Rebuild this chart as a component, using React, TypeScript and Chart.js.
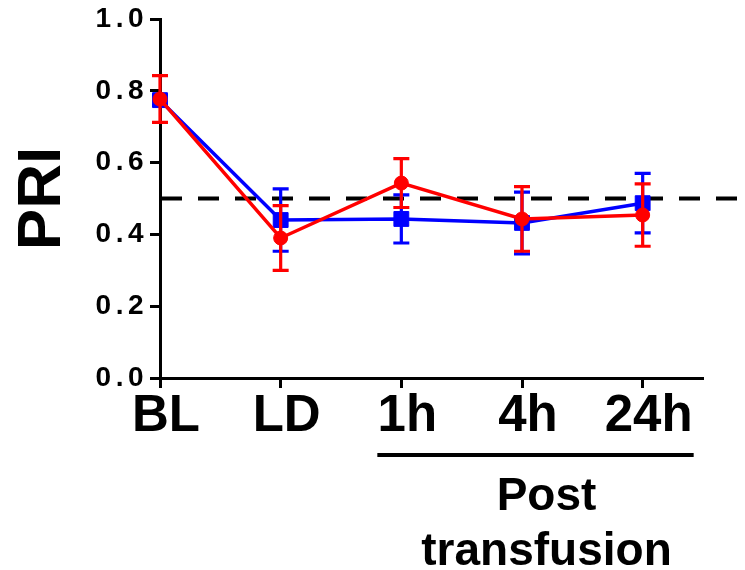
import React, { useEffect, useRef } from 'react';
import { Chart, registerables } from 'chart.js';

Chart.register(...registerables);

const CATEGORIES = ['BL', 'LD', '1h', '4h', '24h'];
const Y_TICK_STEP = 0.2;
const BLUE_MEAN = [0.774, 0.44, 0.443, 0.432, 0.487];
const BLUE_ERR = [0.015, 0.087, 0.067, 0.086, 0.083];
const RED_MEAN = [0.777, 0.39, 0.543, 0.443, 0.454];
const RED_ERR = [0.065, 0.09, 0.068, 0.09, 0.087];
const REFERENCE = 0.5;
const Y_TITLE = 'PRI';
const GROUP_LABEL = ['Post', 'transfusion'];
const GROUP_FROM = 2;
const GROUP_TO = 4;

const FONT = '"Liberation Sans", Arial, Helvetica, sans-serif';

export default function App() {
  const ref = useRef<HTMLCanvasElement>(null);

  useEffect(() => {
    if (!ref.current) return;

    const errorBars = {
      id: 'errorBars',
      beforeDatasetDraw(chart: any, args: any) {
        const ds: any = chart.data.datasets[args.index];
        if (!ds.errors) return;
        const ctx = chart.ctx;
        const xs = chart.scales.x;
        const ys = chart.scales.y;
        ctx.save();
        ctx.strokeStyle = ds.borderColor;
        ctx.lineWidth = 3.2;
        ctx.lineCap = 'butt';
        ds.data.forEach((p: any, i: number) => {
          const px = xs.getPixelForValue(p.x);
          const top = ys.getPixelForValue(p.y + ds.errors[i]);
          const bot = ys.getPixelForValue(p.y - ds.errors[i]);
          ctx.beginPath();
          ctx.moveTo(px, top);
          ctx.lineTo(px, bot);
          ctx.moveTo(px - 8, top);
          ctx.lineTo(px + 8, top);
          ctx.moveTo(px - 8, bot);
          ctx.lineTo(px + 8, bot);
          ctx.stroke();
        });
        ctx.restore();
      },
    };

    const refLine = {
      id: 'refLine',
      beforeDatasetsDraw(chart: any) {
        const ctx = chart.ctx;
        const xs = chart.scales.x;
        const ys = chart.scales.y;
        const y = ys.getPixelForValue(REFERENCE);
        ctx.save();
        ctx.strokeStyle = '#000';
        ctx.lineWidth = 4;
        ctx.setLineDash([21, 16]);
        ctx.beginPath();
        ctx.moveTo(xs.left + 1, y);
        ctx.lineTo(chart.width, y);
        ctx.stroke();
        ctx.restore();
      },
    };

    const spacing = {
      id: 'spacing',
      afterDatasetsDraw(chart: any) {
        (chart.ctx as any).letterSpacing = '4.5px';
      },
      afterDraw(chart: any) {
        const ctx: any = chart.ctx;
        ctx.letterSpacing = '0px';
        const xs = chart.scales.x;
        const x1 = xs.getPixelForValue(GROUP_FROM) - 24;
        const x2 = xs.getPixelForValue(GROUP_TO) + 51;
        ctx.save();
        ctx.strokeStyle = '#000';
        ctx.lineWidth = 4;
        ctx.beginPath();
        ctx.moveTo(x1, 455);
        ctx.lineTo(x2, 455);
        ctx.stroke();
        ctx.fillStyle = '#000';
        ctx.font = `bold 46px ${FONT}`;
        ctx.textAlign = 'center';
        ctx.textBaseline = 'alphabetic';
        const cx = (x1 + x2) / 2 + 11;
        ctx.fillText(GROUP_LABEL[0], cx, 510);
        ctx.fillText(GROUP_LABEL[1], cx, 565);
        ctx.restore();
      },
    };

    const chart = new Chart(ref.current, {
      type: 'line',
      data: {
        datasets: [
          {
            label: 'Red',
            data: RED_MEAN.map((v, i) => ({ x: i, y: v })),
            errors: RED_ERR,
            borderColor: '#ff0000',
            backgroundColor: '#ff0000',
            borderWidth: 3.5,
            pointStyle: 'circle',
            pointRadius: 7,
            pointBorderWidth: 1,
            clip: false,
          } as any,
          {
            label: 'Blue',
            data: BLUE_MEAN.map((v, i) => ({ x: i, y: v })),
            errors: BLUE_ERR,
            borderColor: '#0000ff',
            backgroundColor: '#0000ff',
            borderWidth: 3.5,
            pointStyle: 'rect',
            pointRadius: 10.5,
            pointBorderWidth: 1,
            clip: false,
          } as any,
        ],
      },
      options: {
        animation: false,
        responsive: true,
        maintainAspectRatio: false,
        layout: { padding: { top: 19, right: 42, left: 0, bottom: 0 } },
        plugins: { legend: { display: false }, tooltip: { enabled: false } },
        scales: {
          x: {
            type: 'linear',
            position: 'bottom',
            min: 0,
            max: 4.5,
            afterFit: (s: any) => {
              s.height = 192;
            },
            ticks: {
              stepSize: 1,
              includeBounds: false,
              autoSkip: false,
              maxRotation: 0,
              minRotation: 0,
              padding: -2,
              labelOffset: 6,
              color: '#000',
              font: { family: FONT, size: 51, weight: 'bold' },
              callback: (v: any) => CATEGORIES[Math.round(Number(v))] ?? '',
            },
            grid: {
              drawOnChartArea: false,
              drawTicks: true,
              tickLength: 10,
              tickWidth: 3,
              color: '#000',
            },
            border: { display: true, color: '#000', width: 3 },
          },
          y: {
            type: 'linear',
            min: 0,
            max: 1,
            afterFit: (s: any) => {
              s.width = 160;
            },
            ticks: {
              stepSize: Y_TICK_STEP,
              padding: 2,
              color: '#000',
              z: 1,
              font: { family: FONT, size: 28, weight: 'bold' },
              callback: (v: any) => Number(v).toFixed(1),
            },
            grid: {
              drawOnChartArea: false,
              drawTicks: true,
              tickLength: 10,
              tickWidth: 3,
              color: '#000',
            },
            border: { display: true, color: '#000', width: 3 },
            title: {
              display: true,
              text: Y_TITLE,
              color: '#000',
              font: { family: FONT, size: 62, weight: 'bold' },
              padding: { top: 6, bottom: 0 },
            },
          },
        },
      },
      plugins: [refLine, errorBars, spacing],
    } as any);

    return () => chart.destroy();
  }, []);

  return (
    <div style={{ position: 'absolute', left: 0, top: 0, width: 745, height: 570 }}>
      <canvas ref={ref} />
    </div>
  );
}
